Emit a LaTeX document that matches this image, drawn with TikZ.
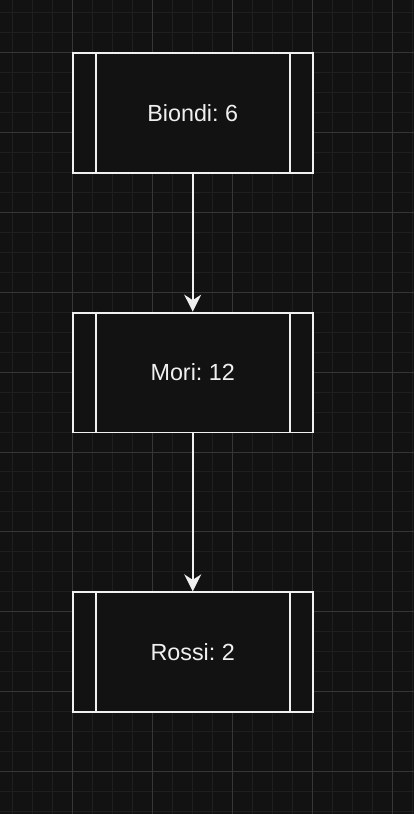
\documentclass[tikz,border=0pt]{standalone}
\usepackage{fontspec}
\setmainfont{Liberation Sans}
\frenchspacing
\usetikzlibrary{arrows.meta}
\definecolor{bgcol}{HTML}{121212}
\definecolor{minorcol}{HTML}{1F1F1F}
\definecolor{majorcol}{HTML}{363636}
\definecolor{linecol}{HTML}{F0F0F0}
\tikzset{
  proc/.style={draw=linecol, fill=bgcol, line width=1.1pt, text=linecol,
    minimum width=4.8cm, minimum height=2.4cm, inner sep=0pt,
    font=\fontsize{13.3}{15}\selectfont},
  bar/.style={draw=linecol, line width=1.1pt},
  flow/.style={draw=linecol, line width=1.1pt,
    -{Stealth[length=0.34cm, width=0.34cm, inset=0.11cm]}},
}

\begin{document}
\begin{tikzpicture}[x=0.02cm, y=-0.02cm]
    % Background
    \fill[bgcol] (0,0) rectangle (414,814);

    % Grid
    \foreach \gx in {12,32,...,412} \draw[minorcol, line width=0.5pt] (\gx,0) -- (\gx,814);
    \foreach \gy in {12,32,...,812} \draw[minorcol, line width=0.5pt] (0,\gy) -- (414,\gy);
    \foreach \gx in {72,152,...,392} \draw[majorcol, line width=0.5pt] (\gx,0) -- (\gx,814);
    \foreach \gy in {52,132,...,772} \draw[majorcol, line width=0.5pt] (0,\gy) -- (414,\gy);

    % Biondi
    \node[proc] (biondi) at (192.5,112.5) {Biondi: 6};
    \draw[bar] ([xshift=0.48cm]biondi.north west) -- ([xshift=0.48cm]biondi.south west);
    \draw[bar] ([xshift=-0.48cm]biondi.north east) -- ([xshift=-0.48cm]biondi.south east);

    % Mori
    \node[proc] (mori) at (192.5,372.5) {Mori: 12};
    \draw[bar] ([xshift=0.48cm]mori.north west) -- ([xshift=0.48cm]mori.south west);
    \draw[bar] ([xshift=-0.48cm]mori.north east) -- ([xshift=-0.48cm]mori.south east);

    % Rossi
    \node[proc] (rossi) at (192.5,652.5) {Rossi: 2};
    \draw[bar] ([xshift=0.48cm]rossi.north west) -- ([xshift=0.48cm]rossi.south west);
    \draw[bar] ([xshift=-0.48cm]rossi.north east) -- ([xshift=-0.48cm]rossi.south east);

    % Arrows
    \draw[flow] (biondi) -- (mori);
    \draw[flow] (mori) -- (rossi);
\end{tikzpicture}
\end{document}
